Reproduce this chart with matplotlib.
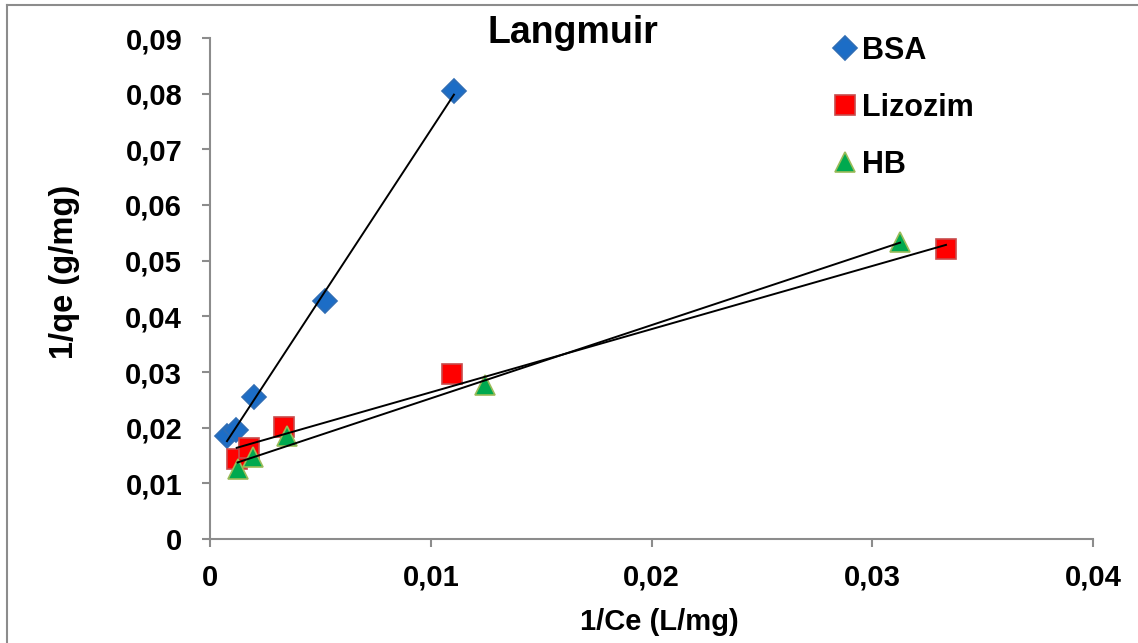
import matplotlib
matplotlib.use("Agg")
import matplotlib.pyplot as plt
from matplotlib.lines import Line2D
import numpy as np
from matplotlib.ticker import FuncFormatter, MultipleLocator

plt.rcParams['font.family'] = ['Liberation Sans', 'DejaVu Sans']
plt.rcParams['font.weight'] = 'bold'

bsa_x = [0.00077, 0.00118, 0.00199, 0.00521, 0.01105]
bsa_y = [0.0185, 0.0196, 0.0255, 0.0428, 0.0805]
liz_x = [0.00121, 0.00178, 0.00335, 0.01096, 0.03334]
liz_y = [0.0143, 0.0163, 0.0202, 0.0296, 0.0521]
hb_x = [0.00125, 0.00193, 0.00347, 0.01246, 0.03126]
hb_y = [0.0125, 0.0147, 0.0185, 0.0277, 0.0534]

W, H = 1138, 643
fig = plt.figure(figsize=(W/100, H/100), dpi=100)
ax = fig.add_axes([210/W, 1-539/H, (1093-210)/W, (539-38)/H])

def fit(x, y):
    x = np.array(x); y = np.array(y)
    m, b = np.polyfit(x, y, 1)
    xs = np.array([x.min(), x.max()])
    return xs, m*xs + b

for xs, ys, mk, fc, ec, ms, lab in [
    (bsa_x, bsa_y, 'D', '#1C6DC6', '#2F6DB5', 12, 'BSA'),
    (liz_x, liz_y, 's', '#FF0000', '#C84B4B', 14, 'Lizozim'),
    (hb_x, hb_y, '^', '#00A94F', '#9BBB59', 14, 'HB'),
]:
    ax.plot(xs, ys, linestyle='none', marker=mk, markerfacecolor=fc,
            markeredgecolor=ec, markersize=ms, markeredgewidth=1.2, label=lab, zorder=3)

for xs, ys in [(bsa_x, bsa_y), (liz_x, liz_y), (hb_x, hb_y)]:
    lx, ly = fit(xs, ys)
    ax.plot(lx, ly, color='black', linewidth=1.4, zorder=4)

ax.set_xlim(0, 0.04)
ax.set_ylim(0, 0.09)
ax.xaxis.set_major_locator(MultipleLocator(0.01))
ax.yaxis.set_major_locator(MultipleLocator(0.01))

def fmt(v, pos):
    if abs(v) < 1e-12:
        return '0'
    return ('%.2f' % v).replace('.', ',')

ax.xaxis.set_major_formatter(FuncFormatter(fmt))
ax.yaxis.set_major_formatter(FuncFormatter(fmt))
ax.tick_params(axis='both', labelsize=21, direction='out', length=6, width=1.5, color='#8C8C8C')
for lbl in ax.get_xticklabels() + ax.get_yticklabels():
    lbl.set_fontweight('bold')
ax.tick_params(axis='x', pad=12)
ax.tick_params(axis='y', pad=14)

for s in ['top', 'right']:
    ax.spines[s].set_visible(False)
for s in ['left', 'bottom']:
    ax.spines[s].set_color('#8C8C8C')
    ax.spines[s].set_linewidth(1.5)

ax.set_xlabel('1/Ce (L/mg)', fontsize=21, fontweight='bold')
ax.xaxis.set_label_coords((659-210)/883, -(622-539)/501)
ax.set_ylabel('1/qe (g/mg)', fontsize=23.5, fontweight='bold')
ax.yaxis.set_label_coords(-(210-65)/883, (539-272)/501)
ax.xaxis.label.set_va('center')
ax.yaxis.label.set_va('center')
ax.text((573-210)/883, (539-33)/501, 'Langmuir', transform=ax.transAxes, ha='center', va='center',
        fontsize=27, fontweight='bold')

leg = ax.legend(loc='upper left', bbox_to_anchor=((836-210)/883, (539-36)/501), frameon=False,
                fontsize=22, handlelength=0.6, handletextpad=0.25, labelspacing=0.88,
                borderaxespad=0, borderpad=0)
for t in leg.get_texts():
    t.set_fontweight('bold')

fig.add_artist(Line2D([7/W, 1], [1-5/H, 1-5/H], transform=fig.transFigure, color='#8C8C8C', linewidth=1.5))
fig.add_artist(Line2D([7/W, 7/W], [0, 1-5/H], transform=fig.transFigure, color='#8C8C8C', linewidth=1.5))

fig.savefig('out.png', dpi=100)
